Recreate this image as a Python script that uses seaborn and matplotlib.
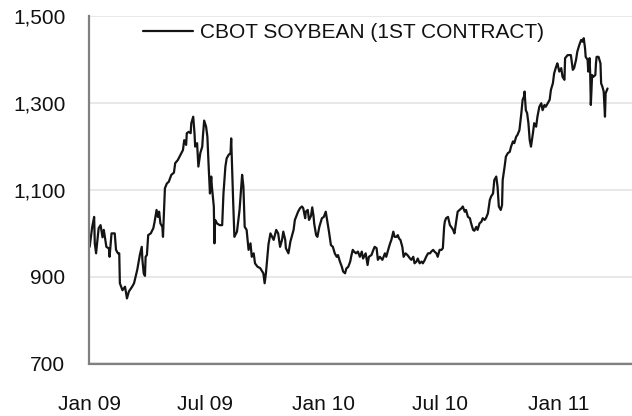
import numpy as np
import pandas as pd
import matplotlib
matplotlib.use("Agg")
import matplotlib.pyplot as plt
import matplotlib.dates as mdates
import matplotlib.ticker as mticker
import seaborn as sns

# ---- data ----
start_date = "2009-01-02"
series_name = "CBOT SOYBEAN (1ST CONTRACT)"
days = [
    0, 4, 7, 8, 10, 14, 17, 20, 22, 26,
    30, 31, 34, 39, 41, 44, 46, 47, 51, 55,
    58, 61, 66, 69, 74, 78, 81, 82, 84, 86,
    87, 89, 91, 95, 99, 101, 104, 106, 108, 110,
    113, 114, 117, 120, 123, 127, 131, 133, 137, 145,
    147, 150, 151, 154, 157, 158, 161, 163, 164, 167,
    169, 172, 175, 176, 178, 181, 183, 185, 187, 189,
    190, 193, 194, 195, 198, 202, 206, 208, 211, 213,
    216, 219, 220, 221, 223, 225, 229, 233, 237, 239,
    241, 244, 247, 250, 252, 255, 257, 261, 265, 270,
    272, 274, 278, 281, 286, 290, 293, 296, 299, 301,
    304, 305, 309, 312, 317, 319, 322, 324, 327, 330,
    332, 335, 336, 339, 341, 344, 346, 348, 349, 352,
    354, 357, 361, 364, 367, 370, 372, 375, 378, 381,
    384, 386, 389, 392, 394, 397, 399, 402, 405, 407,
    409, 411, 414, 417, 420, 423, 425, 429, 432, 434,
    438, 441, 443, 446, 448, 451, 455, 459, 461, 464,
    467, 469, 472, 474, 477, 479, 481, 483, 486, 488,
    491, 494, 498, 500, 503, 505, 508, 510, 513, 516,
    518, 521, 523, 526, 529, 531, 534, 536, 539, 541,
    544, 547, 549, 551, 552, 554, 557, 560, 562, 565,
    567, 570, 572, 575, 578, 580, 583, 585, 588, 591,
    593, 596, 598, 601, 603, 606, 609, 611, 614, 616,
    619, 622, 624, 627, 629, 632, 634, 636, 639, 641,
    642, 645, 647, 650, 653, 655, 658, 660, 663, 665,
    668, 671, 673, 675, 676, 678, 680, 682, 684, 686,
    689, 691, 694, 696, 699, 702, 704, 707, 709, 712,
    715, 717, 720, 722, 725, 727, 730, 733, 735, 738,
    739, 743, 748, 751, 753, 756, 758, 761, 764, 766,
    768, 770, 771, 774, 775, 777, 778, 779, 781, 783,
    786, 787, 788, 791, 794, 795, 797, 799, 801, 802, 805,
]
prices = [
    969, 1015, 1038, 977, 954, 1012, 1019, 991, 1008, 969,
    965, 946, 1000, 1000, 962, 954, 954, 885, 869, 877,
    850, 866, 877, 885, 916, 950, 969, 939, 908, 902,
    946, 950, 996, 1000, 1012, 1027, 1054, 1038, 1050, 1023,
    1015, 992, 1104, 1115, 1119, 1135, 1140, 1162, 1169, 1192,
    1215, 1204, 1231, 1234, 1231, 1254, 1269, 1231, 1200, 1208,
    1154, 1185, 1200, 1223, 1260, 1246, 1223, 1154, 1092, 1131,
    1108, 1062, 977, 1031, 1023, 1019, 1019, 1092, 1154, 1173,
    1181, 1185, 1219, 1169, 1077, 992, 1004, 1054, 1135, 1108,
    1015, 1008, 962, 977, 946, 954, 931, 923, 920, 908,
    885, 908, 975, 1000, 985, 1008, 1000, 969, 985, 1004,
    985, 966, 954, 981, 1008, 1031, 1042, 1050, 1058, 1062,
    1058, 1035, 1050, 1054, 1031, 1040, 1060, 1040, 1023, 996,
    992, 1015, 1035, 1038, 1050, 1023, 1004, 973, 969, 954,
    946, 950, 935, 923, 912, 908, 919, 923, 935, 950,
    962, 958, 954, 958, 946, 958, 942, 954, 927, 946,
    950, 962, 969, 966, 939, 946, 939, 954, 946, 962,
    977, 985, 1004, 992, 992, 996, 988, 985, 969, 946,
    954, 950, 942, 939, 946, 931, 935, 942, 931, 935,
    931, 939, 946, 954, 954, 958, 962, 958, 954, 946,
    962, 962, 966, 1015, 1027, 1035, 1038, 1019, 1015, 1008,
    1000, 1031, 1050, 1054, 1058, 1062, 1050, 1054, 1038, 1035,
    1023, 1008, 1006, 1015, 1008, 1023, 1027, 1035, 1031, 1035,
    1046, 1077, 1085, 1092, 1123, 1131, 1108, 1062, 1054, 1065,
    1123, 1154, 1177, 1185, 1188, 1200, 1212, 1208, 1223, 1227,
    1238, 1277, 1308, 1315, 1327, 1284, 1277, 1254, 1215, 1200,
    1231, 1254, 1246, 1269, 1292, 1300, 1284, 1296, 1292, 1300,
    1308, 1331, 1346, 1369, 1384, 1392, 1373, 1381, 1361, 1354,
    1404, 1411, 1411, 1377, 1381, 1400, 1419, 1434, 1446, 1442,
    1450, 1427, 1407, 1400, 1373, 1404, 1369, 1296, 1365, 1361,
    1365, 1392, 1407, 1407, 1392, 1346, 1338, 1327, 1269, 1323, 1334,
]
y_ticks = [700, 900, 1100, 1300, 1500]

assert len(days) == len(prices)
df = pd.DataFrame({
    "date": pd.Timestamp(start_date) + pd.to_timedelta(days, unit="D"),
    "price": prices,
})

# ---- style ----
sns.set_theme(style="white")
plt.rcParams["font.family"] = ["Liberation Sans", "DejaVu Sans"]

fig = plt.figure(figsize=(6.32, 4.16), dpi=100)
ax = fig.add_axes([89 / 632, 52.5 / 416, 1 - 89 / 632, 347 / 416])

sns.lineplot(data=df, x="date", y="price", ax=ax, color="#141414",
             linewidth=1.6, label=series_name, estimator=None)

ax.set_ylim(700, 1500)
ax.set_xlim(pd.Timestamp("2009-01-01"), pd.Timestamp("2011-04-25"))
ax.set_yticks(y_ticks)
ax.yaxis.set_major_formatter(mticker.FuncFormatter(lambda v, p: f"{int(v):,}"))
ax.xaxis.set_major_locator(mdates.MonthLocator(bymonth=[1, 7]))
ax.xaxis.set_major_formatter(mdates.DateFormatter("%b %y"))

ax.grid(axis="y", color="#e4e4e4", linewidth=1.2)
ax.grid(axis="x", visible=False)
ax.set_axisbelow(True)
for s in ["top", "right"]:
    ax.spines[s].set_visible(False)
for s in ["left", "bottom"]:
    ax.spines[s].set_color("#808080")
    ax.spines[s].set_linewidth(1.6)

ax.tick_params(axis="y", length=0, pad=17, labelsize=15, labelcolor="#111111")
ax.tick_params(axis="x", length=0, pad=23, labelsize=15, labelcolor="#111111")
ax.set_xlabel("")
ax.set_ylabel("")

leg = ax.legend(loc="center left", bbox_to_anchor=(143 / 632, 1 - 33 / 416),
                bbox_transform=fig.transFigure, frameon=False, fontsize=15,
                borderpad=0, borderaxespad=0, handlelength=2.4,
                handletextpad=0.35)
for t in leg.get_texts():
    t.set_color("#111111")

fig.savefig("out.png", dpi=100)
